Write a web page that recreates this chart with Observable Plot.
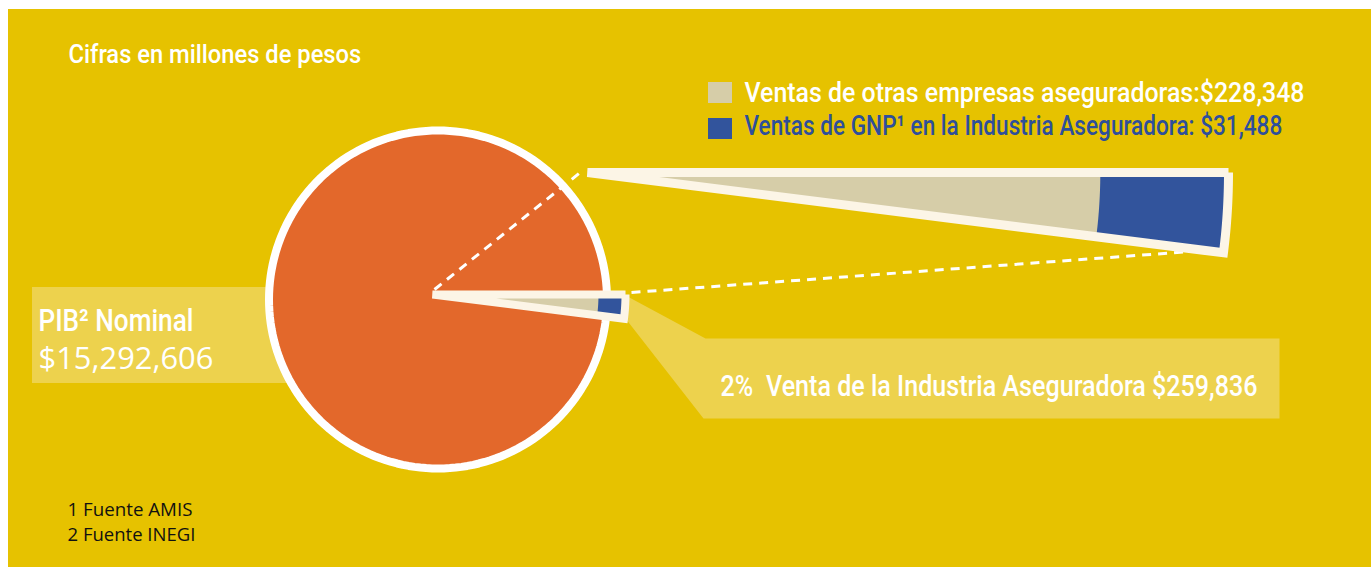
<!DOCTYPE html>
<html>
<head>
<meta charset="utf-8">
<script src="https://cdn.jsdelivr.net/npm/d3@7"></script>
<script src="https://cdn.jsdelivr.net/npm/@observablehq/plot@0.6"></script>
<style>
  html, body { margin: 0; padding: 0; background: #ffffff; }
  #chart svg { display: block; }
</style>
</head>
<body>
<div id="chart"></div>
<script>
// ---------------- DATA ----------------
const subtitle = ["Cifras en millones de pesos"];
const pieCategories = ["PIB² Nominal", "Venta de la Industria Aseguradora"];
const pieValues = [15292606, 259836];
const industrySharePct = [2];            // share as labelled on the chart (%)
const insuranceCategories = ["Ventas de otras empresas aseguradoras", "Ventas de GNP¹ en la Industria Aseguradora"];
const insuranceValues = [228348, 31488];
const footnotes = ["1 Fuente AMIS", "2 Fuente INEGI"];

// ---------------- STYLE / LAYOUT ----------------
const W = 1371, H = 567;
const C = {
  yellow: "#E6C200", light: "#EDD24D", orange: "#E3682B", beige: "#D6CDA8",
  blue: "#32549C", blueText: "#2E4F9B", cream: "#FCF5E6", white: "#FFFFFF", black: "#111111"
};
const L = {
  panel: {x1: 8, y1: 9, x2: W, y2: H},
  pie: {cx: 437.5, cy: 299, r: 169, ring: 8},
  wedge: {cx: 432, cy: 294, r: 193, blueFrom: 0.86, stroke: 8},
  zoom: {cx: 587, cy: 172, r: 641, blueFrom: 0.80, stroke: 9},
  leftBox: {x1: 32, y1: 287, x2: 330, y2: 383},
  rightBox: {x1: 705, y1: 338, x2: 1279, y2: 418}
};
const condensed = "Roboto, 'Liberation Sans', sans-serif";
const humanist = "'Open Sans', 'Noto Sans', sans-serif";
const fmt = d3.format(",");

// ---------------- GEOMETRY FROM DATA ----------------
const share = industrySharePct[0] / 100;
const a0 = 0, a1 = share * 2 * Math.PI;

function arcPts(cx, cy, r, s, e, n) {
  const out = [];
  for (let i = 0; i <= n; i++) {
    const a = s + (e - s) * i / n;
    out.push({x: cx + r * Math.cos(a), y: cy + r * Math.sin(a)});
  }
  return out;
}
function sector(cx, cy, r0, r1, s, e, n = 40) {
  const outer = arcPts(cx, cy, r1, s, e, n);
  const inner = r0 > 0 ? arcPts(cx, cy, r0, s, e, n).reverse() : [{x: cx, y: cy}];
  const pts = outer.concat(inner);
  pts.push(pts[0]);
  return pts;
}
function wedgeMarks(g) {
  return [
    Plot.line(sector(g.cx, g.cy, 0, g.r, a0, a1), {x: "x", y: "y", fill: C.beige, stroke: "none"}),
    Plot.line(sector(g.cx, g.cy, g.r * g.blueFrom, g.r, a0, a1), {x: "x", y: "y", fill: C.blue, stroke: "none"}),
    Plot.line(sector(g.cx, g.cy, 0, g.r, a0, a1), {x: "x", y: "y", fill: "none", stroke: C.cream,
      strokeWidth: g.stroke, strokeLinejoin: "miter", strokeMiterlimit: 4, strokeLinecap: "butt"})
  ];
}
const pieDisc = sector(L.pie.cx, L.pie.cy, 0, L.pie.r, 0, 2 * Math.PI, 180).slice(0, -2);
pieDisc.push(pieDisc[0]);

const W0 = L.wedge, Z0 = L.zoom;
const dash1 = [{x: W0.cx + 2, y: W0.cy - 5}, {x: Z0.cx - 6, y: Z0.cy - 1}];
const dash2 = [{x: W0.cx + W0.r * Math.cos(a0) + 6, y: W0.cy - 2},
               {x: Z0.cx + Z0.r * Math.cos(a1) - 10, y: Z0.cy + Z0.r * Math.sin(a1) - 3}];

const beam = [
  {x: W0.cx + W0.r + 2, y: W0.cy + 2},
  {x: L.rightBox.x1, y: L.rightBox.y1},
  {x: L.rightBox.x2, y: L.rightBox.y1},
  {x: L.rightBox.x2, y: L.rightBox.y2},
  {x: L.rightBox.x1 - 2, y: L.rightBox.y2},
  {x: W0.cx + W0.r, y: W0.cy + 24}
];
beam.push(beam[0]);

// ---------------- TEXTS ----------------
const texts = [
  {text: subtitle[0], x: 68, y: 62, size: 26, fill: C.white, font: condensed, weight: 500, width: 293},
  {text: `${insuranceCategories[0]}:$${fmt(insuranceValues[0])}`, x: 744, y: 101, size: 28, fill: C.white, font: condensed, weight: 500, width: 560},
  {text: `${insuranceCategories[1]}: $${fmt(insuranceValues[1])}`, x: 744, y: 134, size: 28, fill: C.blueText, font: condensed, weight: 500, width: 538},
  {text: pieCategories[0], x: 38, y: 330, size: 31, fill: C.white, font: condensed, weight: 500, width: 155},
  {text: `$${fmt(pieValues[0])}`, x: 38, y: 368, size: 31, fill: C.white, font: humanist, weight: 400, width: 175},
  {text: `${industrySharePct[0]}%\u2002${pieCategories[1]} $${fmt(pieValues[1])}`, x: 720, y: 395, size: 29, fill: C.white, font: condensed, weight: 500, width: 537},
  {text: footnotes[0], x: 67, y: 515, size: 19, fill: C.black, font: humanist, weight: 400, width: 125},
  {text: footnotes[1], x: 67, y: 540, size: 19, fill: C.black, font: humanist, weight: 400, width: 128}
];
const textMarks = texts.map(t => Plot.text([t], {
  x: "x", y: "y", text: "text", textAnchor: "start", lineAnchor: "bottom",
  fontSize: t.size, fill: t.fill, fontFamily: t.font, fontWeight: t.weight
}));

const swatches = [
  {x1: 708, x2: 732, y1: 82, y2: 103, c: C.beige},
  {x1: 708, x2: 732, y1: 118, y2: 139, c: C.blue}
];

// ---------------- PLOT ----------------
const chart = Plot.plot({
  width: W, height: H, margin: 0,
  x: {domain: [0, W], range: [0, W], axis: null},
  y: {domain: [0, H], range: [0, H], axis: null},
  style: {background: "#ffffff"},
  marks: [
    Plot.rect([L.panel], {x1: "x1", y1: "y1", x2: "x2", y2: "y2", fill: C.yellow}),
    Plot.rect([L.leftBox], {x1: "x1", y1: "y1", x2: "x2", y2: "y2", fill: C.light}),
    Plot.line(beam, {x: "x", y: "y", fill: C.light, stroke: "none"}),
    Plot.line(pieDisc, {x: "x", y: "y", fill: C.orange, stroke: C.white, strokeWidth: L.pie.ring}),
    Plot.line(dash1, {x: "x", y: "y", stroke: C.white, strokeWidth: 3, strokeDasharray: "9,7", strokeLinecap: "butt"}),
    Plot.line(dash2, {x: "x", y: "y", stroke: C.white, strokeWidth: 3, strokeDasharray: "9,7", strokeLinecap: "butt"}),
    ...wedgeMarks(L.wedge),
    ...wedgeMarks(L.zoom),
    ...swatches.map(s => Plot.rect([s], {x1: "x1", x2: "x2", y1: "y1", y2: "y2", fill: s.c})),
    ...textMarks
  ]
});
document.getElementById("chart").appendChild(chart);

// compress lettering horizontally to the reference's condensed widths
chart.querySelectorAll("text").forEach(el => {
  const t = texts.find(d => d.text === el.textContent);
  if (!t || !t.width) return;
  const natural = el.getComputedTextLength();
  if (!natural) return;
  const s = t.width / natural;
  const tr = el.getAttribute("transform") || "";
  el.setAttribute("transform", `${tr} scale(${s.toFixed(4)},1)`);
});
</script>
</body>
</html>
